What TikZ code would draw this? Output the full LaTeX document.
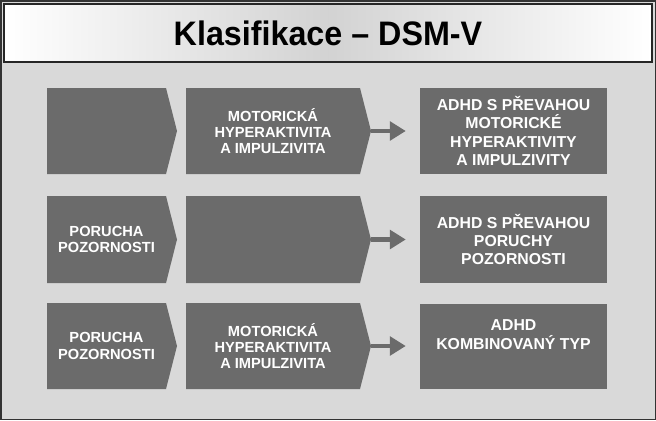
\documentclass[tikz,border=0pt]{standalone}
\usepackage{fontspec}
\setmainfont{Liberation Sans}
\usetikzlibrary{calc,arrows.meta}
\definecolor{bgGray}{HTML}{D9D9D9}
\definecolor{boxGray}{HTML}{6B6B6B}
\tikzstyle{tsBoxText} = [
    text=white,
    font=\bfseries\fontsize{12.5}{14}\selectfont,
    align=center
]
\tikzstyle{tsChevron} = [
    fill=boxGray,
    draw=none
]
\tikzstyle{tsResult} = [
    rectangle,
    fill=boxGray,
    tsBoxText,
    font=\bfseries\fontsize{13.5}{15.5}\selectfont,
    minimum width=5.61cm,
    minimum height=2.55cm,
    inner sep=0pt
]
\tikzstyle{tsLink} = [
    draw=boxGray,
    line width=1.3mm,
    -{Triangle[length=4.8mm,width=5.6mm]}
]
% chevron: name, left x, right x, top y, bottom y, text
\newcommand{\chevbox}[6]{%
    \fill[tsChevron] (#2,#4) -- ({#3-11},#4) -- (#3,{(#4+#5)/2}) -- ({#3-11},#5) -- (#2,#5) -- cycle;
    \coordinate (#1tip) at (#3,{(#4+#5)/2});
    \node[tsBoxText] (#1) at ({(#2+#3-11)/2},{(#4+#5)/2}) {#6};}

\begin{document}
\begin{tikzpicture}[x=0.03cm,y=-0.03cm]
        \useasboundingbox (0,0) rectangle (656,420);
        \fill[bgGray] (0,0) rectangle (656,420);
        \draw[line width=0.3mm, black!80] (1,1) rectangle (655,419);

        % Title bar
        \shade[left color=white, right color=white, middle color=gray!35] (4,4) rectangle (652,62);
        \draw[line width=0.5mm, black!85] (4,4) rectangle (652,62);
        \node[font=\bfseries\fontsize{29}{32}\selectfont, xscale=0.95] (title) at (328,33) {Klasifikace -- DSM-V};

        % Row 1
        \chevbox{aa}{47}{177}{88}{174}{}
        \chevbox{ab}{186}{371}{88}{174}{MOTORICKÁ\\HYPERAKTIVITA\\A IMPULZIVITA}
        \node[tsResult] (ra) at (513.5,131) {ADHD S PŘEVAHOU\\MOTORICKÉ\\HYPERAKTIVITY\\A IMPULZIVITY};

        % Row 2
        \chevbox{ba}{47}{177}{196}{283}{PORUCHA\\POZORNOSTI}
        \chevbox{bb}{186}{371}{196}{283}{}
        \node[tsResult, minimum height=2.61cm] (rb) at (513.5,239.5) {ADHD S PŘEVAHOU\\PORUCHY\\POZORNOSTI};

        % Row 3
        \chevbox{ca}{47}{177}{303}{389}{PORUCHA\\POZORNOSTI}
        \chevbox{cb}{186}{371}{303}{389}{MOTORICKÁ\\HYPERAKTIVITA\\A IMPULZIVITA}
        \node[tsResult] (rc) at (513.5,346) {ADHD\\KOMBINOVANÝ TYP\\[4pt]};

        % Arrows
        \draw[tsLink] (abtip) -- ($(ra.west)+(-14,0)$);
        \draw[tsLink] (bbtip) -- ($(rb.west)+(-14,0)$);
        \draw[tsLink] (cbtip) -- ($(rc.west)+(-14,0)$);

\end{tikzpicture}
\end{document}
